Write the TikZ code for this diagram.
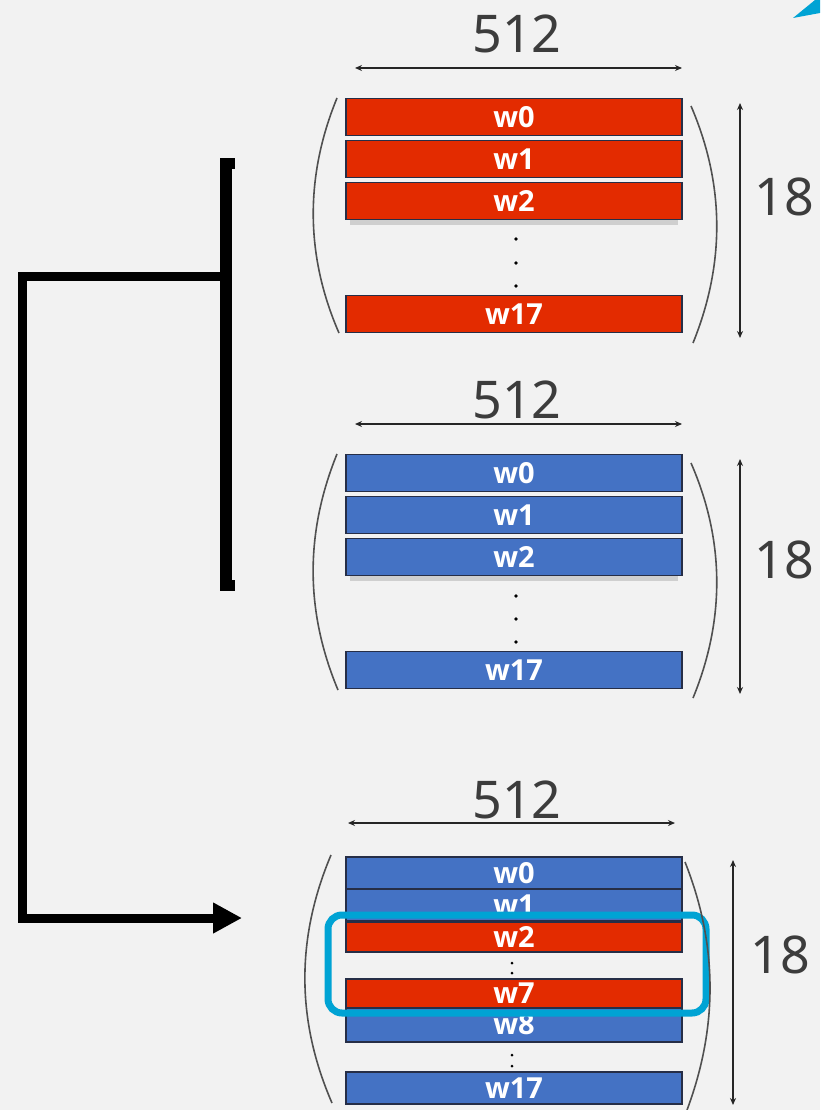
\documentclass[tikz,border=0pt]{standalone}
\usepackage{fontspec}
\setmainfont{Noto Sans}
\newfontfamily\labfont{Open Sans}
\usetikzlibrary{arrows.meta}
\definecolor{bgc}{HTML}{F2F2F2}
\definecolor{redc}{HTML}{E32B00}
\definecolor{bluec}{HTML}{4472C4}
\definecolor{edgec}{HTML}{262E47}
\definecolor{dimc}{HTML}{3C3C3C}
\definecolor{parc}{HTML}{505050}
\definecolor{cyanc}{HTML}{00A3D4}
\definecolor{shadc}{HTML}{CFCFCF}
\tikzset{
  bar/.style={draw=edgec, line width=1.3pt, minimum width=336pt, inner sep=0pt,
    text=white, font=\labfont\fontsize{29}{29}\selectfont\bfseries},
  redbar/.style={bar, fill=redc},
  bluebar/.style={bar, fill=bluec},
  dimtext/.style={text=dimc, inner sep=0pt, font=\fontsize{52}{52}\selectfont},
  dimline/.style={draw=black!85, line width=1.3pt, {Stealth[length=7pt,width=6pt]}-{Stealth[length=7pt,width=6pt]}},
  paren/.style={draw=parc, line width=1.6pt},
  dotm/.style={fill=black, circle, inner sep=0pt, minimum size=3.6pt},
  conn/.style={draw=black, line width=9pt, line join=miter},
  hilite/.style={draw=cyanc, line width=7pt, rounded corners=14pt, minimum width=378pt, minimum height=98pt, inner sep=0pt}
}
\begin{document}
\begin{tikzpicture}[x=1pt,y=-1pt]
\fill[bgc] (0,0) rectangle (820,1110);
\useasboundingbox (0,0) rectangle (820,1110);
% cyan fragment top right
\fill[cyanc] (793,18) -- (815,0) -- (820,0) -- (820,13) -- cycle;

% ---------- top panel (red) ----------
\node[dimtext] (n512a) at (517,34) {512};
\coordinate (ha1) at (355,68); \coordinate (ha2) at (682,68);
\draw[dimline] (ha1) -- (ha2);
\fill[shadc] (350,219) rectangle (678,225);
\node[redbar, minimum height=37pt] (a0) at (514,117) {w0};
\node[redbar, minimum height=37pt] (a1) at (514,159) {w1};
\node[redbar, minimum height=37pt] (a2) at (514,201) {w2};
\node[redbar, minimum height=37pt] (a17) at (514,314) {w17};
\node[dotm] (ad1) at (516,239) {};
\node[dotm] (ad2) at (516,263) {};
\node[dotm] (ad3) at (516,286) {};
\draw[paren] (337,98) .. controls (305,176) and (305,255) .. (339,333);
\draw[paren] (691,106) .. controls (725,185) and (725,264) .. (693,343);
\coordinate (va1) at (740,103); \coordinate (va2) at (740,338);
\draw[dimline] (va1) -- (va2);
\node[dimtext] (n18a) at (784,197) {18};

% ---------- middle panel (blue) ----------
\node[dimtext] (n512b) at (517,400) {512};
\coordinate (hb1) at (355,424); \coordinate (hb2) at (682,424);
\draw[dimline] (hb1) -- (hb2);
\fill[shadc] (350,575) rectangle (678,581);
\node[bluebar, minimum height=37pt] (b0) at (514,473) {w0};
\node[bluebar, minimum height=37pt] (b1) at (514,515) {w1};
\node[bluebar, minimum height=37pt] (b2) at (514,557) {w2};
\node[bluebar, minimum height=37pt] (b17) at (514,670) {w17};
\node[dotm] (bd1) at (516,596) {};
\node[dotm] (bd2) at (516,619) {};
\node[dotm] (bd3) at (516,642) {};
\draw[paren] (337,454) .. controls (305,533) and (305,611) .. (338,690);
\draw[paren] (691,463) .. controls (725,541) and (725,620) .. (693,698);
\coordinate (vb1) at (740,459); \coordinate (vb2) at (740,694);
\draw[dimline] (vb1) -- (vb2);
\node[dimtext] (n18b) at (784,560) {18};

% ---------- bottom panel (mixed) ----------
\node[dimtext] (n512c) at (517,800) {512};
\coordinate (hc1) at (348,823); \coordinate (hc2) at (675,823);
\draw[dimline] (hc1) -- (hc2);
\node[bluebar, minimum height=32pt] (c0) at (514,873) {w0};
\node[bluebar, minimum height=32pt] (c1) at (514,905) {w1};
\node[bluebar, minimum height=35pt] (c8) at (514,1024.5) {w8};
\node[bluebar, minimum height=32pt] (c17) at (514,1088) {w17};
\node[redbar, minimum height=30pt] (c2) at (514,937) {w2};
\node[redbar, minimum height=29pt] (c7) at (514,993.5) {w7};
\node[dotm, minimum size=3pt] (cd1) at (512,963) {};
\node[dotm, minimum size=3pt] (cd2) at (512,973) {};
\node[dotm, minimum size=3pt] (cd3) at (512,1055) {};
\node[dotm, minimum size=3pt] (cd4) at (512,1066) {};
\node[hilite] (hl) at (517,964) {};
\draw[paren] (331,855) .. controls (296,938) and (296,1020) .. (332,1103);
\draw[paren] (685,862) .. controls (718,945) and (718,1027) .. (687,1110);
\coordinate (vc1) at (733,860); \coordinate (vc2) at (733,1105);
\draw[dimline] (vc1) -- (vc2);
\node[dimtext] (n18c) at (780,955) {18};

% ---------- left bracket and connector ----------
\fill[black] (220,158) rectangle (232,591);
\fill[black] (231,158) rectangle (235,169);
\fill[black] (231,580) rectangle (235,591);
\coordinate (bm) at (226,276);
\coordinate (corner1) at (22,276);
\coordinate (tgt) at (242,918);
\draw[conn, -{Triangle[length=29pt,width=29pt]}] (bm) -- (corner1) |- (tgt);
\end{tikzpicture}
\end{document}
